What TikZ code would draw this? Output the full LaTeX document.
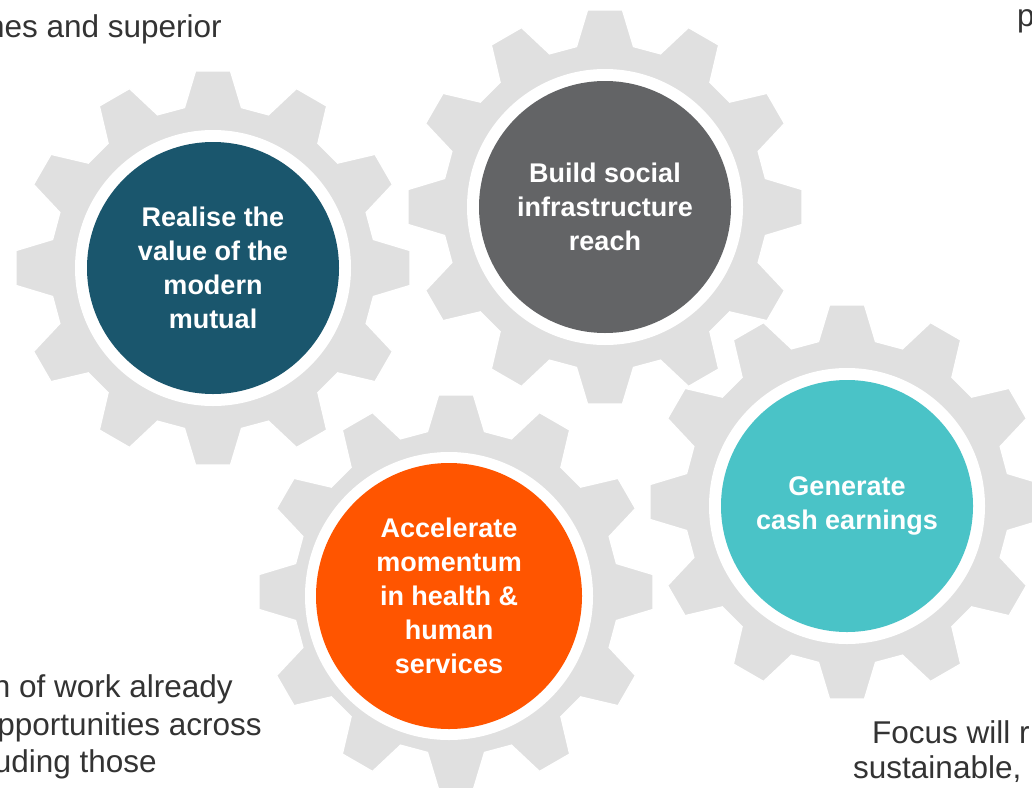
\documentclass[tikz,border=0pt]{standalone}
\usepackage{fontspec}
\setmainfont{Liberation Sans}
\definecolor{geargray}{HTML}{E0E0E0}
\definecolor{cblue}{HTML}{1A566D}
\definecolor{cgray}{HTML}{636466}
\definecolor{corange}{HTML}{FF5500}
\definecolor{cteal}{HTML}{4AC3C7}
\definecolor{bodytext}{HTML}{333333}
\newcommand\drawgear[2]{%
  \fill[gearbody, shift={(#1,#2)}] (-10.1:163)
    \foreach \a in {0,30,...,330}{ -- (\a-10.1:163) -- (\a-5.07:198) -- (\a+5.07:198) -- (\a+10.1:163)} -- cycle;}
\begin{document}
\begin{tikzpicture}[x=1pt,y=-1pt,
  gearbody/.style={fill=geargray, draw=white, line width=1.5pt, line join=miter},
  bubble/.style={circle, inner sep=0pt, text=white, align=center,
    font=\bfseries\fontsize{27}{34}\selectfont},
  bodytxt/.style={inner sep=0pt, text=bodytext, font=\fontsize{31.5}{37}\selectfont}]
\useasboundingbox (0,0) rectangle (1032,787);
\clip (0,0) rectangle (1032,787);
\fill[white] (0,0) rectangle (1032,787);
% gears
\drawgear{213}{268}
\drawgear{605}{207}
\drawgear{456}{592}
\drawgear{847}{502}
% white rings
\fill[white] (213,268) circle[radius=138pt];
\fill[white] (605,207) circle[radius=138pt];
\fill[white] (449,596) circle[radius=144pt];
\fill[white] (847,506) circle[radius=138pt];
% coloured discs
\node[bubble, fill=cblue, minimum size=252pt] (realise) at (213,268) {Realise the\\value of the\\modern\\mutual};
\node[bubble, fill=cgray, minimum size=252pt] (build) at (605,207) {Build social\\infrastructure\\reach};
\node[bubble, fill=corange, minimum size=266pt] (accel) at (449,596) {Accelerate\\momentum\\in health \&\\human\\services};
\node[bubble, fill=cteal, minimum size=252pt] (cash) at (847,506) {Generate\\cash earnings};
% cut-off body text
\node[bodytxt, anchor=base east] (tl) at (222,37) {hes and superior};
\node[bodytxt, anchor=base west] (tr) at (1017,27) {p};
\node[bodytxt, anchor=base east] (bl1) at (233,697) {h of work already};
\node[bodytxt, anchor=base east] (bl2) at (262,735) {pportunities across};
\node[bodytxt, anchor=base east] (bl3) at (157,772) {uding those};
\node[bodytxt, anchor=base west] (br1) at (872,743) {Focus will r};
\node[bodytxt, anchor=base west] (br2) at (853,778) {sustainable,};
\end{tikzpicture}
\end{document}
